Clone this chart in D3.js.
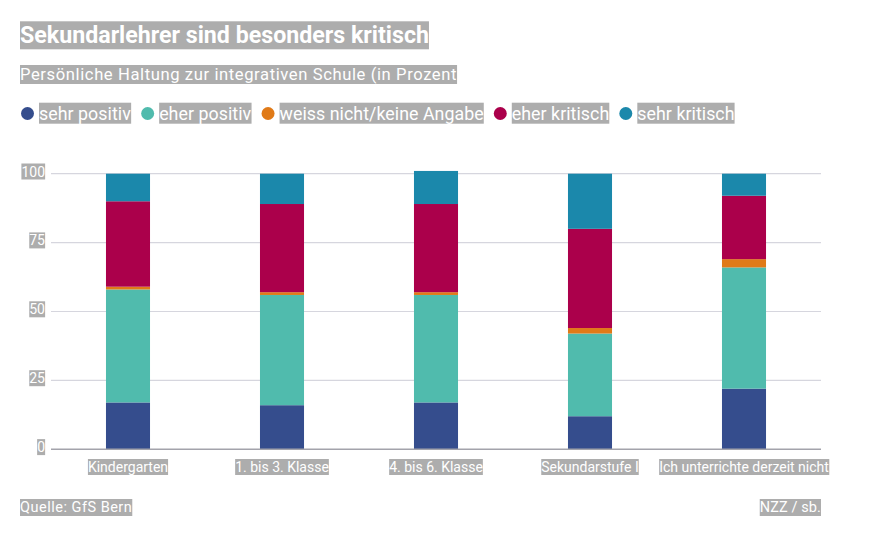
<!DOCTYPE html>
<html><head><meta charset="utf-8">
<script src="https://cdn.jsdelivr.net/npm/d3@7"></script>
<style>body{margin:0;background:#fff}svg{display:block}text{font-family:Roboto,"Noto Sans",sans-serif}</style>
</head><body><svg id="c" width="881" height="552"></svg>
<script>
const categories = ["Kindergarten","1. bis 3. Klasse","4. bis 6. Klasse","Sekundarstufe I","Ich unterrichte derzeit nicht"];
const seriesNames = ["sehr positiv","eher positiv","weiss nicht/keine Angabe","eher kritisch","sehr kritisch"];
const seriesColors = ["#354d8d","#50bbad","#e07a18","#ab004b","#1b88ab"];
const sehrPositiv = [17,16,17,12,22];
const eherPositiv = [41,40,39,30,44];
const weissNicht = [1,1,1,2,3];
const eherKritisch = [31,32,32,36,23];
const sehrKritisch = [10,11,12,20,8];
const yTicks = [0,25,50,75,100];
const title = "Sekundarlehrer sind besonders kritisch";
const subtitle = "Persönliche Haltung zur integrativen Schule (in Prozent";
const source = "Quelle: GfS Bern";
const credit = "NZZ / sb.";

const values = [sehrPositiv, eherPositiv, weissNicht, eherKritisch, sehrKritisch];
const rows = categories.map((c,i)=>{const r={cat:c}; seriesNames.forEach((s,j)=>r[s]=values[j][i]); return r;});
const stacked = d3.stack().keys(seriesNames)(rows);

const svg = d3.select("#c");
const BOX = "#adadad";
const x = d3.scaleBand().domain(categories).range([51,821]).paddingInner(0.714).paddingOuter(0.357);
const y = d3.scaleLinear().domain([0,100]).range([449.3,173.7]);

function boxed(sel){
  sel.each(function(){
    const b=this.getBBox();
    d3.select(this.parentNode).insert("rect",()=>this)
      .attr("x",b.x).attr("y",b.y).attr("width",b.width).attr("height",b.height).attr("fill",BOX);
  });
  return sel;
}
function label(g,txt,xx,yy,fs,opts={}){
  const t=g.append("text").attr("x",xx).attr("y",yy).attr("font-size",fs).attr("fill","#fff")
    .attr("text-anchor",opts.anchor||"start").attr("font-weight",opts.weight||400)
    .attr("letter-spacing",opts.ls||0).text(txt);
  boxed(t);
  return t;
}

// gridlines
const grid = svg.append("g");
grid.selectAll("line").data(yTicks.filter(d=>d>0)).join("line")
  .attr("x1",51).attr("x2",821).attr("y1",d=>y(d)).attr("y2",d=>y(d))
  .attr("stroke","#d6d6de").attr("stroke-width",1.2);

// bars
svg.append("g").selectAll("g").data(stacked).join("g").attr("fill",(d,i)=>seriesColors[i])
  .selectAll("rect").data(d=>d).join("rect")
  .attr("x",d=>x(d.data.cat)).attr("width",x.bandwidth())
  .attr("y",d=>y(d[1])).attr("height",d=>y(d[0])-y(d[1]));

// baseline axis
svg.append("line").attr("x1",51).attr("x2",821).attr("y1",y(0)).attr("y2",y(0))
  .attr("stroke","#a3a3ab").attr("stroke-width",1.5);

// y labels
const yl = svg.append("g");
yTicks.forEach(t=>{ const g=yl.append("g"); label(g,String(t),45,y(t)+2.8,14,{anchor:"end"}); });

// x labels
const xl = svg.append("g");
categories.forEach(c=>{ const g=xl.append("g"); label(g,c,x(c)+x.bandwidth()/2,472,14,{anchor:"middle"}); });

// title, subtitle
label(svg.append("g"),title,20,43.3,23.2,{weight:700});
label(svg.append("g"),subtitle,20,80,16.6,{ls:0.6});

// legend
const lg = svg.append("g");
let lx = 27.5;
seriesNames.forEach((s,i)=>{
  const g = lg.append("g");
  g.append("circle").attr("cx",lx).attr("cy",113.5).attr("r",6.5).attr("fill",seriesColors[i]);
  const t = label(g,s,lx+11.5,119.7,17.8,{ls:0.05});
  lx = lx + 11.5 + t.node().getBBox().width + 16.5;
});

// footer
label(svg.append("g"),source,20,512,14.5,{ls:0.5});
label(svg.append("g"),credit,821,512,14.5,{anchor:"end",ls:0.1});
</script></body></html>
